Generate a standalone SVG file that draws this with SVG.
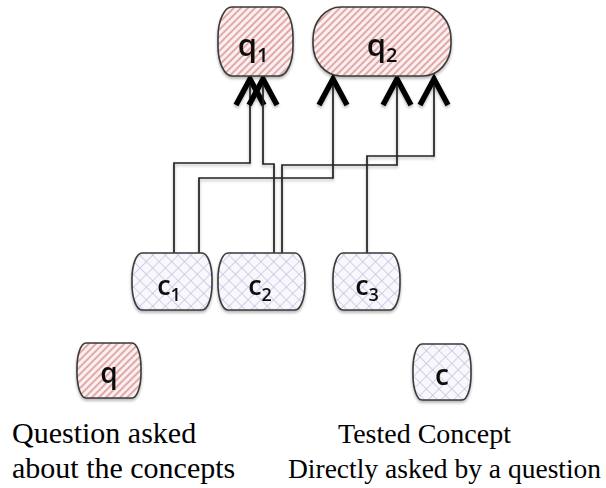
<svg xmlns="http://www.w3.org/2000/svg" width="606" height="488" viewBox="0 0 606 488">
<style>
.box{stroke:#3a3a3a;stroke-width:1.6}
.qf{fill:url(#hatchQ)}
.cf{fill:url(#hatchC)}
.lbl{font-family:"Open Sans","Liberation Sans",sans-serif;font-weight:600;fill:#111;text-anchor:middle}
.cap{font-family:"Liberation Serif","Times New Roman",serif;fill:#000}
.wire{fill:none;stroke:#222;stroke-width:1.7;marker-end:url(#chev)}
</style>
<defs>
<pattern id="hatchQ" width="5" height="5" patternUnits="userSpaceOnUse" patternTransform="rotate(45)">
<rect width="5" height="5" fill="#fbefef"/>
<line x1="1" y1="0" x2="1" y2="5" stroke="#d99393" stroke-width="1.5"/>
</pattern>
<pattern id="hatchC" width="9" height="9" patternUnits="userSpaceOnUse" patternTransform="rotate(45)">
<rect width="9" height="9" fill="#f8f7fc"/>
<line x1="0" y1="0" x2="0" y2="9" stroke="#bdb5dc" stroke-width="1.2"/>
<line x1="0" y1="0" x2="9" y2="0" stroke="#bdb5dc" stroke-width="1.2"/>
</pattern>
<marker id="chev" markerUnits="userSpaceOnUse" markerWidth="40" markerHeight="40" viewBox="-30 -20 40 40" refX="0" refY="0" orient="auto" overflow="visible">
<path d="M-26,-14 L0,0 L-26,14" fill="none" stroke="#000" stroke-width="5.5" stroke-linejoin="miter"/>
</marker>
<filter id="sh" x="-20%" y="-20%" width="140%" height="140%">
<feGaussianBlur in="SourceAlpha" stdDeviation="1.5"/>
<feOffset dx="0" dy="2" result="b"/>
<feComponentTransfer><feFuncA type="linear" slope="0.3"/></feComponentTransfer>
<feMerge><feMergeNode/><feMergeNode in="SourceGraphic"/></feMerge>
</filter>
</defs>

<g id="connectors" filter="url(#sh)">
<path class="wire" d="M174,253 V163 H250 V79"/>
<path class="wire" d="M199,253 V178 H333 V79"/>
<path class="wire" d="M274,253 V164 H263 V79"/>
<path class="wire" d="M282,253 V165 H397 V79"/>
<path class="wire" d="M367,253 V156 H434 V79"/>
</g>

<g id="q1" filter="url(#sh)">
<rect class="box qf" x="218" y="7" width="75" height="69" rx="14" ry="30"/>
<text class="lbl" x="253" y="56" font-size="31">q<tspan font-size="20" dy="6">1</tspan></text>
</g>
<g id="q2" filter="url(#sh)">
<rect class="box qf" x="313" y="7" width="138" height="69" rx="28" ry="32"/>
<text class="lbl" x="382" y="56" font-size="31">q<tspan font-size="20" dy="6">2</tspan></text>
</g>

<g id="c1" filter="url(#sh)">
<rect class="box cf" x="132" y="253" width="80" height="57" rx="10" ry="26"/>
<text class="lbl" x="169" y="295" font-size="27">c<tspan font-size="18" dy="6">1</tspan></text>
</g>
<g id="c2" filter="url(#sh)">
<rect class="box cf" x="218" y="253" width="87" height="57" rx="10" ry="26"/>
<text class="lbl" x="260" y="295" font-size="27">c<tspan font-size="18" dy="6">2</tspan></text>
</g>
<g id="c3" filter="url(#sh)">
<rect class="box cf" x="333" y="253" width="67" height="57" rx="10" ry="26"/>
<text class="lbl" x="367" y="295" font-size="27">c<tspan font-size="18" dy="6">3</tspan></text>
</g>

<g id="legend-q" filter="url(#sh)">
<rect class="box qf" x="77" y="343" width="64" height="55" rx="9" ry="25"/>
<text class="lbl" x="109" y="383" font-size="28">q</text>
</g>
<g id="legend-c" filter="url(#sh)">
<rect class="box cf" x="413" y="344" width="58" height="56" rx="9" ry="25"/>
<text class="lbl" x="442" y="385" font-size="28">c</text>
</g>

<g id="captions">
<text class="cap" x="12" y="443" font-size="30">Question asked</text>
<text class="cap" x="12" y="478" font-size="30">about the concepts</text>
<text class="cap" x="338" y="443" font-size="28">Tested Concept</text>
<text class="cap" x="288" y="478" font-size="27.5">Directly asked by a question</text>
</g>
</svg>
